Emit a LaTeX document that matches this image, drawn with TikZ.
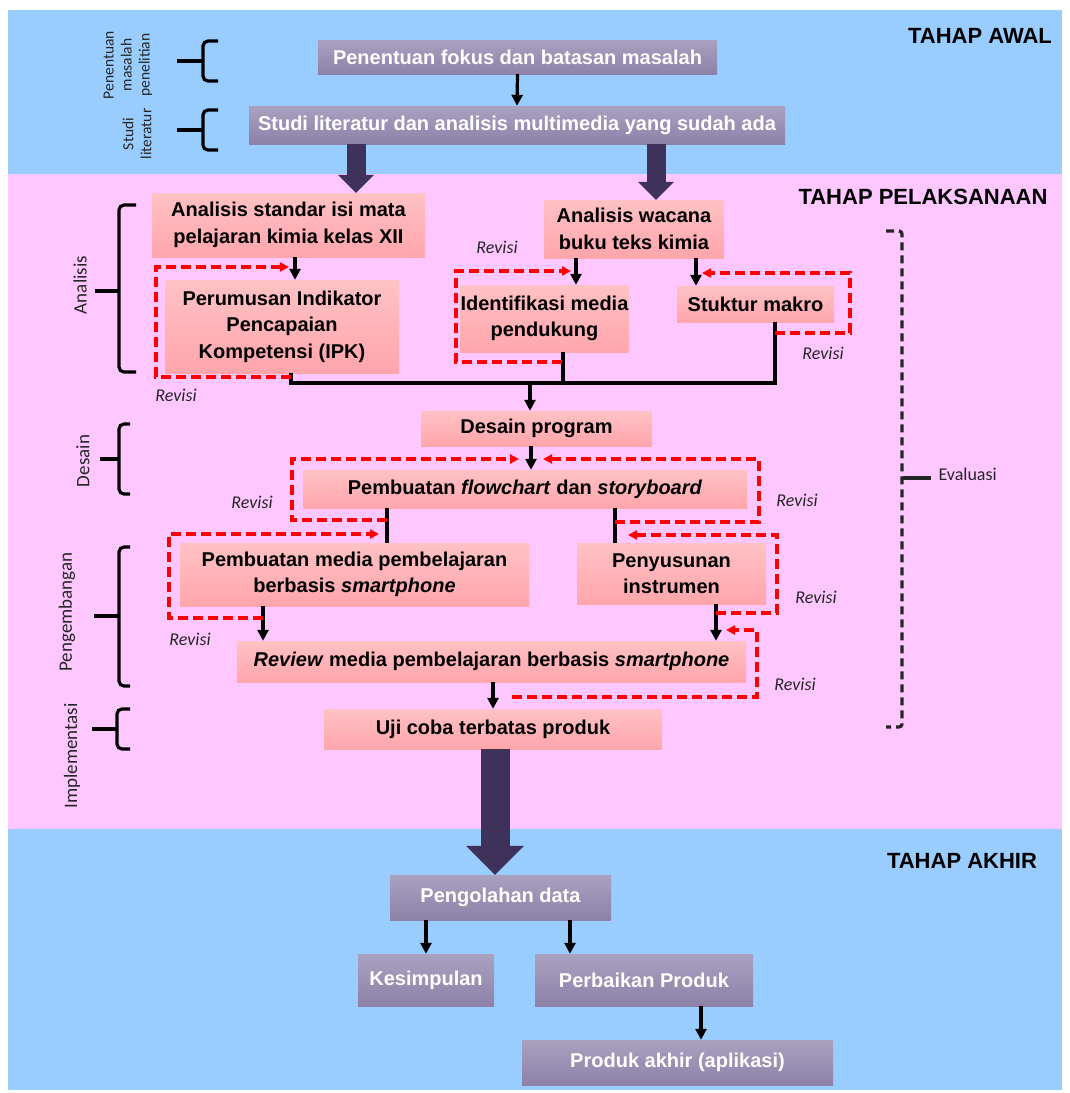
\documentclass[tikz,border=0pt]{standalone}
\usepackage{fontspec}
\setmainfont{Liberation Sans}
\newfontfamily\calibri{Carlito}
\usetikzlibrary{arrows.meta}
\definecolor{bgblue}{RGB}{153,204,255}
\definecolor{bgpink}{RGB}{255,199,255}
\definecolor{pinktop}{RGB}{255,194,196}
\definecolor{pinkbot}{RGB}{255,165,172}
\definecolor{graytop}{RGB}{170,161,192}
\definecolor{graybot}{RGB}{141,129,168}
\definecolor{darkpurple}{RGB}{62,49,90}

\begin{document}
\begin{tikzpicture}[x=1pt,y=-1pt,
  box/.style={inner sep=0pt,align=center,font=\bfseries\fontsize{20}{26.5}\selectfont},
  graybox/.style={box,top color=graytop,bottom color=graybot,text=white},
  pinkbox/.style={box,top color=pinktop,bottom color=pinkbot},
  line/.style={line width=3.2pt},
  arr/.style={line width=3.2pt,-{Triangle[length=11pt,width=11pt]}},
  revisi/.style={red,line width=3.2pt,dash pattern=on 10pt off 5pt,-{Triangle[length=9pt,width=9pt]}},
  revlabel/.style={font=\calibri\itshape\fontsize{18}{20}\selectfont,text=black!85},
  bigarr/.style={darkpurple,-{Triangle[length=#1,width=2*#1,line width=0pt]}},
  brace/.style={line width=3.2pt,rounded corners=5pt},
  sidelabel/.style={rotate=90,align=center,font=\calibri\fontsize{19}{19}\selectfont,text=black!85},
  title/.style={font=\bfseries\fontsize{22}{22}\selectfont}]
  \useasboundingbox (0,0) rectangle (1069,1093);
  % three stages
  \fill[bgblue] (8,10) rectangle (1062,174);
  \fill[bgpink] (8,174) rectangle (1062,829);
  \fill[bgblue] (8,829) rectangle (1062,1090);
  \node[title] (awal) at (980,36) {TAHAP AWAL};
  \node[title] (pelaksanaan) at (923,197) {TAHAP PELAKSANAAN};
  \node[title] (akhirlbl) at (962,861) {TAHAP AKHIR};

  % boxes
  \node[graybox,minimum width=399pt,minimum height=34pt] (fokus) at (517.5,57) {Penentuan fokus dan batasan masalah};
  \node[graybox,minimum width=536pt,minimum height=38pt] (studi) at (517,125) {Studi literatur dan analisis multimedia yang sudah ada};
  \node[pinkbox,minimum width=273pt,minimum height=64pt] (standar) at (288.5,225) {Analisis standar isi mata\\pelajaran kimia kelas XII};
  \node[pinkbox,minimum width=180pt,minimum height=58pt] (wacana) at (634,229) {Analisis wacana\\buku teks kimia};
  \node[pinkbox,minimum width=234pt,minimum height=93pt] (ipk) at (282,326.5) {Perumusan Indikator\\Pencapaian\\Kompetensi (IPK)};
  \node[pinkbox,minimum width=159pt,minimum height=67pt] (media) at (544.5,318.5) {Identifikasi media\\pendukung};
  \node[pinkbox,minimum width=157pt,minimum height=36pt] (makro) at (755.5,304) {Stuktur makro};
  \node[pinkbox,minimum width=231pt,minimum height=35pt] (desain) at (536.5,428.5) {Desain program};
  \node[pinkbox,minimum width=444pt,minimum height=38pt] (flow) at (525,489) {Pembuatan \textit{flowchart} dan \textit{storyboard}};
  \node[pinkbox,minimum width=349pt,minimum height=63pt] (buat) at (354.5,574.5) {Pembuatan media pembelajaran\\berbasis \textit{smartphone}};
  \node[pinkbox,minimum width=189pt,minimum height=61pt] (instrumen) at (671.5,573.5) {Penyusunan\\instrumen};
  \node[pinkbox,minimum width=509pt,minimum height=41pt] (review) at (491.5,661.5) {\textit{Review} media pembelajaran berbasis \textit{smartphone}};
  \node[pinkbox,minimum width=338pt,minimum height=40pt] (uji) at (493,729) {Uji coba terbatas produk};
  \node[graybox,minimum width=221pt,minimum height=45pt] (olah) at (500.5,897.5) {Pengolahan data};
  \node[graybox,minimum width=136pt,minimum height=52pt] (simpul) at (426,980) {Kesimpulan};
  \node[graybox,minimum width=218pt,minimum height=52pt] (perbaikan) at (644,980) {Perbaikan Produk};
  \node[graybox,minimum width=311pt,minimum height=45pt] (akhir) at (677.5,1062.5) {Produk akhir (aplikasi)};

  % thick arrows between stages
  \draw[bigarr=18pt,line width=19pt] (studi.south -| 356,0) -- (standar.north -| 356,0);
  \draw[bigarr=18pt,line width=19pt] (studi.south -| 656,0) -- (wacana.north -| 656,0);
  \draw[bigarr=29pt,line width=29pt] (uji.south -| 495,0) -- (olah.north -| 495,0);

  % flow
  \draw[arr] (fokus.south) -- (studi.north);
  \draw[arr] (standar.south -| 295,0) -- (ipk.north -| 295,0);
  \draw[arr] (wacana.south -| 576,0) -- (media.north -| 576,0);
  \draw[arr] (wacana.south -| 696,0) -- (makro.north -| 696,0);
  \coordinate (merge) at (530,383);
  \draw[line] (ipk.south -| 291,0) |- (merge) -| (makro.south -| 775,0);
  \draw[line] (media.south -| 563,0) -- (merge -| 563,0);
  \draw[arr] (merge) -- (desain.north -| merge);
  \draw[arr] (desain.south -| 531,0) -- (flow.north -| 531,0);
  \draw[line] (flow.south -| 387,0) -- (buat.north -| 387,0);
  \draw[line] (flow.south -| 615,0) -- (instrumen.north -| 615,0);
  \draw[arr] (buat.south -| 263,0) -- (review.north -| 263,0);
  \draw[arr] (instrumen.south -| 716,0) -- (review.north -| 716,0);
  \draw[arr] (review.south -| 493,0) -- (uji.north -| 493,0);
  \draw[arr] (olah.south -| 426,0) -- (simpul.north -| 426,0);
  \draw[arr] (olah.south -| 570,0) -- (perbaikan.north -| 570,0);
  \draw[arr] (perbaikan.south -| 701,0) -- (akhir.north -| 701,0);

  % revision loops
  \draw[revisi] (291,377) -| (156,267) -- (289,267);
  \draw[revisi] (562,362) -| (456,271) -- (571,271);
  \draw[revisi] (775,333) -| (850,273) -- (702,273);
  \draw[revisi] (387,520) -| (292,459) -- (519,459);
  \draw[revisi] (615,522) -| (759,459) -- (543,459);
  \draw[revisi] (263,618) -| (169,534) -- (379,534);
  \draw[revisi] (716,613) -| (777,535) -- (628,535);
  \draw[revisi] (512,697) -| (757,630) -- (726,630);
  \node[revlabel] (rev1) at (176,395) {Revisi};
  \node[revlabel] (rev2) at (497,247) {Revisi};
  \node[revlabel] (rev3) at (823,353) {Revisi};
  \node[revlabel] (rev4) at (252,502) {Revisi};
  \node[revlabel] (rev5) at (797,500) {Revisi};
  \node[revlabel] (rev6) at (816,597) {Revisi};
  \node[revlabel] (rev7) at (795,684) {Revisi};
  \node[revlabel] (rev8) at (190,639) {Revisi};

  % braces on the left
  \draw[brace] (218,41) -- (203,41) -- (203,81) -- (218,81);
  \draw[line] (177,61) -- (203,61);
  \draw[brace] (218,110) -- (203,110) -- (203,150) -- (218,150);
  \draw[line] (177,130) -- (203,130);
  \draw[brace] (136,205) -- (119,205) -- (119,372) -- (136,372);
  \draw[line] (95,291) -- (119,291);
  \draw[brace] (130,424) -- (119,424) -- (119,494) -- (130,494);
  \draw[line] (100,459) -- (119,459);
  \draw[brace] (130,547) -- (119,547) -- (119,686) -- (130,686);
  \draw[line] (94,616) -- (119,616);
  \draw[brace] (130,709) -- (117,709) -- (117,749) -- (130,749);
  \draw[line] (92,729) -- (117,729);
  \node[sidelabel,font=\calibri\fontsize{15.5}{18}\selectfont] (lblmasalah) at (128,65) {Penentuan\\masalah\\penelitian};
  \node[sidelabel,font=\calibri\fontsize{15.5}{18}\selectfont] (lblstudi) at (137,134) {Studi\\literatur};
  \node[sidelabel] (lblanalisis) at (80,285) {Analisis};
  \node[sidelabel] (lbldesain) at (83,461) {Desain};
  \node[sidelabel] (lblkembang) at (67,612) {Pengembangan};
  \node[sidelabel] (lblimplem) at (72,756) {Implementasi};

  % evaluation bracket
  \draw[line,black!85,dash pattern=on 8pt off 5pt,rounded corners=3pt] (886,231) -- (902,231) -- (902,727) -- (886,727);
  \draw[line,black!85] (903,478) -- (931,478);
  \node[anchor=west,font=\calibri\fontsize{18}{20}\selectfont,text=black!85] (evaluasi) at (935,474) {Evaluasi};
\end{tikzpicture}
\end{document}
